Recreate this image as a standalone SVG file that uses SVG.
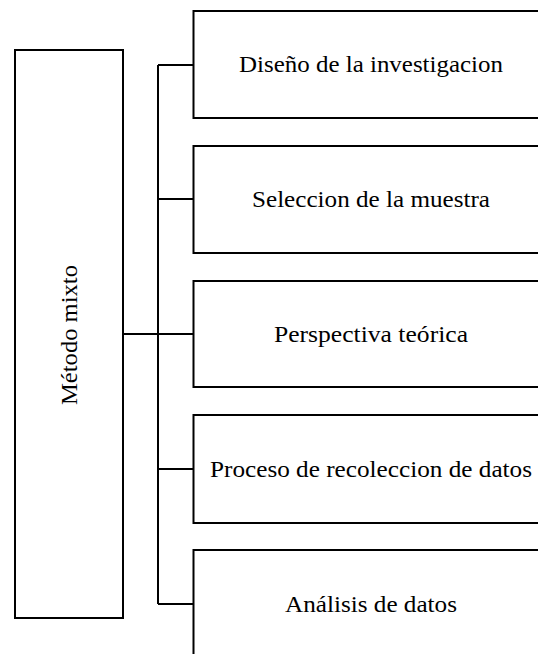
<svg xmlns="http://www.w3.org/2000/svg" width="538" height="654" viewBox="0 0 538 654">
<style>
.box{fill:#fff;stroke:#000;stroke-width:2}
.ln{fill:none;stroke:#000;stroke-width:2}
text{font-family:"Liberation Serif","DejaVu Serif",serif;font-size:23px;fill:#000;text-anchor:middle}
</style>
<rect width="538" height="654" fill="#fff"/>
<g id="connectors">
<path class="ln" d="M123 334H193M158 65V604M158 65H193M158 199H193M158 469H193M158 604H193"/>
</g>
<g id="n0"><rect class="box" x="15" y="50" width="108" height="568"/><text transform="translate(77 335) rotate(-90)" textLength="140" lengthAdjust="spacingAndGlyphs">Método mixto</text></g>
<g id="n1"><rect class="box" x="193.5" y="11" width="360" height="107"/><text x="371" y="72" textLength="264" lengthAdjust="spacingAndGlyphs">Diseño de la investigacion</text></g>
<g id="n2"><rect class="box" x="193.5" y="146" width="360" height="107"/><text x="371" y="207" textLength="238" lengthAdjust="spacingAndGlyphs">Seleccion de la muestra</text></g>
<g id="n3"><rect class="box" x="193.5" y="281" width="360" height="106"/><text x="371" y="342" textLength="194" lengthAdjust="spacingAndGlyphs">Perspectiva teórica</text></g>
<g id="n4"><rect class="box" x="193.5" y="415" width="360" height="108"/><text x="371" y="477" textLength="322" lengthAdjust="spacingAndGlyphs">Proceso de recoleccion de datos</text></g>
<g id="n5"><rect class="box" x="193.5" y="550" width="360" height="110"/><text x="371" y="612" textLength="172" lengthAdjust="spacingAndGlyphs">Análisis de datos</text></g>
</svg>
